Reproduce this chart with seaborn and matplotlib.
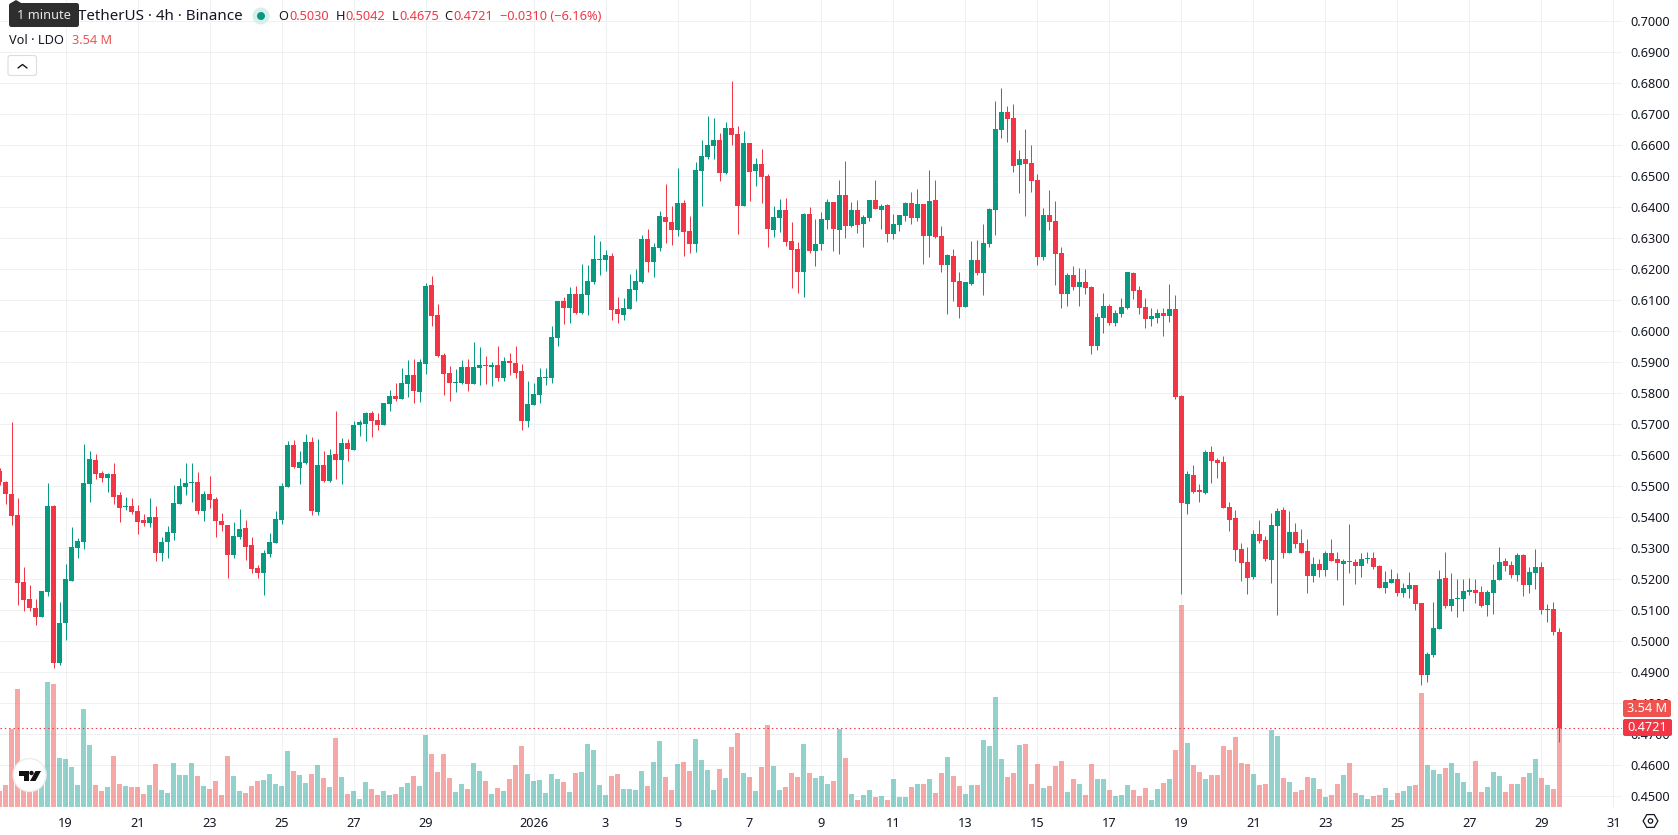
import matplotlib
matplotlib.use("Agg")
import matplotlib.pyplot as plt
from matplotlib.patches import Circle, FancyBboxPatch, Polygon, RegularPolygon
import numpy as np
import pandas as pd
import seaborn as sns

# 4h candles, numbered from the 19 December 00:00 bar
first_bar = -11
open_ = [
    .5549, .5514, .5475, .5408, .5191, .5137, .5108, .5078, .5159, .5437, .4930,
    .5059, .5195, .5301, .5320, .5508, .5585, .5543, .5527, .5540, .5472,
    .5434, .5436, .5420, .5391, .5382, .5401, .5285, .5320, .5349, .5443,
    .5498, .5511, .5514, .5420, .5475, .5459, .5388, .5375, .5278, .5337,
    .5366, .5311, .5237, .5220, .5282, .5317, .5391, .5498, .5633, .5560,
    .5575, .5643, .5417, .5569, .5517, .5604, .5585, .5640, .5617, .5698,
    .5701, .5737, .5714, .5698, .5766, .5791, .5782, .5830, .5859, .5804,
    .5895, .6149, .6053, .5924, .5866, .5833, .5833, .5885, .5830, .5882,
    .5891, .5885, .5891, .5849, .5904, .5898, .5872, .5711, .5762, .5795,
    .5849, .5849, .5978, .6098, .6075, .6120, .6059, .6117, .6159, .6230,
    .6230, .6243, .6072, .6053, .6072, .6133, .6159, .6298, .6224, .6269,
    .6369, .6353, .6327, .6414, .6324, .6282, .6517, .6562, .6598, .6617,
    .6511, .6656, .6637, .6404, .6608, .6517, .6540, .6501, .6327, .6366,
    .6391, .6291, .6266, .6191, .6378, .6259, .6282, .6359, .6417, .6327,
    .6440, .6340, .6391, .6346, .6366, .6424, .6391, .6408, .6314, .6343,
    .6372, .6414, .6366, .6411, .6308, .6424, .6308, .6214, .6243, .6162,
    .6078, .6153, .6230, .6188, .6282, .6391, .6649, .6708, .6688, .6537,
    .6556, .6543, .6488, .6240, .6375, .6356, .6253, .6120, .6182, .6143,
    .6159, .6143, .5953, .6043, .6082, .6027, .6056, .6075, .6188, .6133,
    .6078, .6040, .6043, .6059, .6049, .6072, .5792, .5443, .5537, .5488,
    .5478, .5611, .5585, .5578, .5433, .5398, .5298, .5256, .5208, .5346,
    .5327, .5262, .5372, .5424, .5285, .5353, .5317, .5291, .5211, .5249,
    .5230, .5285, .5266, .5249, .5259, .5256, .5243, .5266, .5269, .5243,
    .5172, .5188, .5201, .5156, .5169, .5182, .5124, .4891, .4956, .5040,
    .5204, .5114, .5137, .5137, .5159, .5166, .5159, .5117, .5156, .5198,
    .5259, .5246, .5214, .5278, .5182, .5220, .5240, .5101, .5104, .5030,
]
high = [
    .5560, .5517, .5708, .5462, .5240, .5182, .5137, .5162, .5511, .5440, .5127,
    .5249, .5369, .5333, .5637, .5614, .5604, .5549, .5543, .5575, .5482,
    .5466, .5462, .5440, .5411, .5462, .5437, .5337, .5372, .5504, .5527,
    .5575, .5575, .5546, .5485, .5533, .5466, .5414, .5375, .5385, .5427,
    .5391, .5337, .5246, .5295, .5349, .5420, .5511, .5646, .5649, .5614,
    .5669, .5659, .5653, .5614, .5620, .5743, .5656, .5653, .5711, .5714,
    .5740, .5743, .5737, .5769, .5811, .5833, .5882, .5908, .5911, .5911,
    .6156, .6178, .6088, .5930, .5888, .5878, .5908, .5911, .5966, .5949,
    .5920, .5901, .5953, .5917, .5930, .5953, .5895, .5840, .5833, .5882,
    .5882, .6017, .6098, .6111, .6143, .6146, .6217, .6214, .6311, .6291,
    .6262, .6253, .6111, .6108, .6185, .6201, .6311, .6330, .6285, .6388,
    .6475, .6404, .6527, .6424, .6372, .6546, .6617, .6695, .6688, .6640,
    .6675, .6808, .6662, .6646, .6608, .6559, .6588, .6508, .6404, .6427,
    .6430, .6353, .6288, .6382, .6401, .6362, .6385, .6427, .6417, .6488,
    .6549, .6417, .6424, .6375, .6424, .6488, .6411, .6411, .6378, .6375,
    .6417, .6449, .6459, .6411, .6520, .6488, .6340, .6249, .6266, .6191,
    .6159, .6291, .6295, .6346, .6398, .6743, .6785, .6727, .6733, .6585,
    .6653, .6601, .6508, .6398, .6456, .6420, .6272, .6188, .6211, .6204,
    .6201, .6146, .6059, .6124, .6088, .6069, .6108, .6191, .6191, .6146,
    .6108, .6075, .6072, .6075, .6153, .6117, .5795, .5549, .5569, .5508,
    .5617, .5630, .5591, .5598, .5449, .5424, .5317, .5304, .5359, .5391,
    .5340, .5414, .5430, .5433, .5420, .5382, .5362, .5330, .5272, .5266,
    .5291, .5330, .5288, .5266, .5378, .5266, .5285, .5288, .5288, .5246,
    .5227, .5233, .5220, .5188, .5224, .5182, .5124, .4966, .5127, .5230,
    .5288, .5220, .5201, .5201, .5204, .5201, .5178, .5166, .5249, .5304,
    .5269, .5259, .5285, .5282, .5240, .5298, .5256, .5120, .5127, .5042,
]
low = [
    .5505, .5443, .5375, .5117, .5098, .5098, .5053, .5078, .5146, .4914, .4924,
    .5004, .5195, .5269, .5298, .5449, .5524, .5514, .5482, .5443, .5385,
    .5424, .5411, .5346, .5372, .5369, .5259, .5259, .5269, .5327, .5443,
    .5472, .5449, .5411, .5388, .5430, .5337, .5356, .5204, .5269, .5330,
    .5262, .5220, .5204, .5149, .5272, .5317, .5378, .5498, .5559, .5508,
    .5572, .5408, .5408, .5514, .5514, .5524, .5508, .5582, .5617, .5662,
    .5647, .5659, .5681, .5698, .5743, .5775, .5782, .5788, .5769, .5772,
    .5862, .6017, .5917, .5795, .5775, .5804, .5830, .5808, .5830, .5827,
    .5830, .5824, .5840, .5840, .5859, .5849, .5682, .5691, .5762, .5769,
    .5827, .5833, .5953, .6024, .6027, .6056, .6056, .6053, .6153, .6182,
    .6195, .6037, .6027, .6037, .6072, .6098, .6156, .6191, .6175, .6259,
    .6285, .6278, .6308, .6243, .6253, .6256, .6404, .6556, .6556, .6485,
    .6508, .6601, .6314, .6404, .6420, .6469, .6414, .6272, .6304, .6320,
    .6275, .6140, .6124, .6111, .6253, .6211, .6262, .6330, .6259, .6249,
    .6301, .6337, .6317, .6272, .6356, .6395, .6330, .6288, .6298, .6324,
    .6356, .6346, .6356, .6217, .6240, .6301, .6191, .6056, .6098, .6043,
    .6078, .6149, .6182, .6117, .6272, .6311, .6624, .6611, .6514, .6446,
    .6372, .6449, .6214, .6230, .6327, .6149, .6075, .6082, .6133, .6082,
    .6120, .5927, .5940, .5995, .6020, .6017, .6046, .6072, .6104, .6056,
    .6011, .6017, .6027, .5985, .6030, .5782, .5153, .5411, .5478, .5449,
    .5475, .5511, .5527, .5430, .5356, .5259, .5195, .5153, .5201, .5317,
    .5259, .5188, .5085, .5269, .5285, .5301, .5285, .5156, .5191, .5208,
    .5211, .5259, .5198, .5117, .5220, .5185, .5208, .5253, .5233, .5172,
    .5156, .5188, .5146, .5143, .5140, .5101, .4859, .4869, .4949, .5040,
    .5108, .5098, .5078, .5098, .5149, .5124, .5111, .5082, .5088, .5198,
    .5227, .5204, .5195, .5146, .5156, .5169, .5088, .5062, .5020, .4675,
]
close = [
    .5515, .5475, .5404, .5188, .5133, .5108, .5078, .5162, .5437, .4930, .5059,
    .5201, .5304, .5324, .5511, .5588, .5540, .5527, .5540, .5466, .5430,
    .5436, .5417, .5385, .5382, .5401, .5285, .5320, .5353, .5446, .5501,
    .5511, .5514, .5420, .5475, .5456, .5388, .5375, .5278, .5340, .5362,
    .5304, .5233, .5220, .5285, .5320, .5395, .5501, .5633, .5562, .5578,
    .5643, .5420, .5569, .5517, .5601, .5585, .5640, .5620, .5698, .5708,
    .5737, .5711, .5698, .5769, .5791, .5782, .5833, .5859, .5808, .5901,
    .6146, .6049, .5920, .5862, .5833, .5837, .5885, .5830, .5885, .5891,
    .5889, .5891, .5849, .5904, .5898, .5866, .5711, .5766, .5798, .5853,
    .5853, .5982, .6098, .6075, .6120, .6059, .6120, .6162, .6233, .6233,
    .6246, .6069, .6056, .6075, .6137, .6162, .6298, .6224, .6272, .6372,
    .6353, .6327, .6414, .6320, .6282, .6520, .6566, .6601, .6617, .6511,
    .6656, .6633, .6404, .6608, .6514, .6540, .6498, .6330, .6369, .6391,
    .6288, .6262, .6191, .6378, .6259, .6282, .6362, .6417, .6330, .6440,
    .6340, .6391, .6343, .6369, .6424, .6395, .6404, .6314, .6346, .6375,
    .6414, .6366, .6411, .6308, .6420, .6304, .6214, .6246, .6159, .6078,
    .6159, .6230, .6188, .6285, .6395, .6653, .6708, .6685, .6533, .6556,
    .6540, .6485, .6240, .6375, .6353, .6249, .6120, .6182, .6143, .6159,
    .6140, .5953, .6046, .6082, .6027, .6059, .6078, .6191, .6130, .6075,
    .6040, .6049, .6059, .6049, .6072, .5788, .5446, .5540, .5482, .5482,
    .5611, .5582, .5575, .5430, .5391, .5295, .5253, .5204, .5346, .5324,
    .5266, .5375, .5420, .5285, .5353, .5314, .5285, .5211, .5249, .5230,
    .5285, .5259, .5253, .5259, .5256, .5243, .5266, .5269, .5240, .5172,
    .5191, .5201, .5156, .5172, .5182, .5120, .4891, .4959, .5043, .5201,
    .5114, .5137, .5140, .5162, .5166, .5156, .5114, .5159, .5198, .5256,
    .5243, .5214, .5278, .5182, .5224, .5240, .5101, .5104, .5030, .4721,
]
# traded volume per bar, in millions of LDO
volume = [
    .58, .79, 2.82, 4.26, .65, .60, .60, 1.00, 4.51, 4.44, 1.77,
    1.73, 1.44, .79, 3.54, 2.24, .79, .58, .72, 1.84, .83,
    .76, .72, .72, .47, .79, 1.55, .61, .51, 1.59, 1.16,
    1.16, 1.59, 1.12, .76, .65, .94, .43, 1.84, 1.12, .58,
    .51, .76, .94, .97, 1.19, .83, .76, 2.02, 1.30, 1.16,
    .87, 1.19, 1.52, 1.05, .72, 2.49, 1.08, .47, .58, .29,
    .90, .65, .43, .58, .43, .47, .72, .87, 1.12, .76,
    2.60, 1.91, 1.26, 1.91, 1.05, .54, .83, .65, 1.59, 1.30,
    .94, .47, .69, .58, 1.01, 1.52, 2.20, 1.19, .94, .97,
    .51, 1.19, 1.01, .90, .54, 1.23, 1.26, 2.27, 2.06, .79,
    .43, 1.12, 1.19, .65, .65, .61, 1.30, .76, 1.62, 2.38,
    1.08, .61, 1.55, 1.62, 1.30, 2.45, 1.70, 1.34, .61, 1.37,
    1.05, 2.17, 2.67, 1.23, 1.08, .58, 1.44, 2.96, 1.48, .61,
    .72, 1.23, 1.08, 2.27, 1.23, 1.05, 1.12, .83, .94, 2.82,
    1.77, .47, .25, .43, .61, .36, .40, .25, 1.01, .36,
    .36, .72, .83, .83, 1.01, .51, 1.23, 1.81, 1.12, .76,
    .47, .79, .79, 2.42, 2.20, 3.97, 1.73, 1.08, 1.23, 2.24,
    2.27, .83, 1.55, .69, .76, 1.48, 1.66, .54, 1.01, .83,
    .43, 1.55, 1.01, 1.01, .61, .40, .43, .79, .61, .40,
    .69, .25, .65, .87, 1.01, 2.06, 7.29, 2.31, 1.52, 1.26,
    1.01, 1.16, 1.16, 2.20, 2.06, 2.53, 1.59, 1.55, 1.19, .79,
    .83, 2.78, 2.56, 1.05, .90, .54, .61, 1.08, 1.05, .65,
    .36, .43, .83, 1.16, 1.59, .51, .43, .29, .40, .43,
    .69, .25, .51, .58, .76, .79, 4.12, 1.52, 1.34, 1.19,
    1.41, 1.59, 1.23, .90, .54, 1.66, .54, .72, 1.26, 1.12,
    .54, .83, .83, 1.08, 1.23, 1.73, 1.05, .79, .65, 3.54,
]
price_ticks = [round(0.45 + 0.01 * k, 2) for k in range(26)]
# days after 19 December that carry a date label
date_offsets = [0, 2, 4, 6, 8, 10, 13, 15, 17, 19, 21, 23, 25, 27, 29, 31, 33, 35, 37,
                39, 41, 43]
date_labels = ["19", "21", "23", "25", "27", "29", "2026", "3", "5", "7", "9", "11", "13",
               "15", "17", "19", "21", "23", "25", "27", "29", "31"]

UP, DOWN = "#089981", "#F23645"
UP_VOL, DOWN_VOL = "#26A69A", "#EF5350"
GRID = "#EFF0F2"
TEXT = "#131722"

bars = pd.DataFrame({"open": open_, "high": high, "low": low, "close": close, "volume": volume})
bars["bar"] = np.arange(len(bars)) + first_bar
bars["rising"] = bars["close"] >= bars["open"]

sns.set_theme(style="white")
plt.rcParams["font.family"] = ["Noto Sans", "DejaVu Sans"]

W, H = 1678, 835
fig = plt.figure(figsize=(W / 100, H / 100), dpi=100, facecolor="white")
ax = fig.add_axes([0, 28 / H, 1622 / W, 807 / H])
ax_vol = ax.twinx()
ax_candle = ax.twinx()

x_limits = (-10.917, 259.417)
price_limits = (0.44655, 0.70687)

# grid and axes
ax.set_xlim(*x_limits)
ax.set_ylim(*price_limits)
ax.set_xticks([6 * d for d in date_offsets])
ax.set_xticklabels(date_labels, fontsize=9.2, color=TEXT)
for label_ in ax.get_xticklabels():
    if label_.get_text() == "2026":
        label_.set_fontweight("bold")
ax.set_yticks(price_ticks)
ax.set_yticklabels([f"{t:.4f}" for t in price_ticks], fontsize=9.2, color=TEXT)
ax.yaxis.tick_right()
ax.tick_params(axis="both", length=0)
ax.tick_params(axis="x", pad=7)
ax.tick_params(axis="y", pad=5.8)
ax.grid(True, color=GRID, linewidth=0.72)
ax.set_axisbelow(True)
sns.despine(ax=ax, left=True, right=True, top=True, bottom=True)

# volume histogram on its own scale
sns.barplot(data=bars, x="bar", y="volume", hue="rising",
            palette={True: UP_VOL, False: DOWN_VOL}, dodge=False, native_scale=True,
            width=0.83, saturation=1, alpha=0.5, linewidth=0, legend=False, ax=ax_vol)
ax_vol.set_xlim(*x_limits)
ax_vol.set_ylim(0, 807 / 27.7)
ax_vol.axis("off")

# wicks, then candle bodies
for rising, color in ((True, UP), (False, DOWN)):
    part = bars[bars["rising"] == rising]
    ax_candle.vlines(part["bar"], part["low"], part["high"], color=color, linewidth=0.72)
    base = part[["open", "close"]].min(axis=1).to_numpy()
    body = (part["close"] - part["open"]).abs().to_numpy()
    sns.barplot(x=part["bar"].to_numpy(), y=body, bottom=base, color=color, saturation=1,
                native_scale=True, width=0.83, linewidth=0, ax=ax_candle)
ax_candle.axhline(close[-1], color=DOWN, linewidth=0.8, linestyle=(0, (1.3, 2.6)))
ax_candle.set_xlim(*x_limits)
ax_candle.set_ylim(*price_limits)
ax_candle.axis("off")

# chart furniture placed in pixel coordinates
ui = fig.add_axes([0, 0, 1, 1], zorder=5)
ui.set_xlim(0, W)
ui.set_ylim(H, 0)
ui.axis("off")


def label(x, y, text, color=TEXT, size=9.2, ha="left", **kw):
    ui.text(x, y, text, color=color, fontsize=size, ha=ha, va="center", **kw)


def box(x0, y0, x1, y1, face, edge="none", radius=2.0, lw=0.0):
    ui.add_patch(FancyBboxPatch((x0, y0), x1 - x0, y1 - y0,
                                boxstyle=f"round,pad=0,rounding_size={radius}",
                                facecolor=face, edgecolor=edge, linewidth=lw))


label(78.5, 16, "TetherUS · 4h · Binance", size=10.9)
ui.add_patch(Circle((261, 16), 8.5, facecolor="#D9EFEB", edgecolor="none"))
ui.add_patch(Circle((261, 16), 4, facecolor=UP, edgecolor="none"))
for x_key, key, x_val, value in ((278, "O", 289, "0.5030"), (335.5, "H", 345, "0.5042"),
                                 (391.5, "L", 399, "0.4675"), (444.5, "C", 453.5, "0.4721")):
    label(x_key, 16.5, key, size=9.2)
    label(x_val, 16.5, value, color=DOWN, size=9.2)
label(500, 16.5, "−0.0310 (−6.16%)", color=DOWN, size=9.2)

# tooltip over the symbol name
ui.add_patch(Polygon([(10, 3.5), (16, 0), (22, 3.5)], facecolor="#2E2E2E", edgecolor="none"))
box(9, 3, 79, 27, "#2E2E2E", radius=2.5)
label(44, 15.5, "1 minute", color="#E8E8E8", size=9.2, ha="center")

label(9, 40.5, "Vol · LDO", size=9.2)
label(71.5, 40.5, "3.54 M", color=DOWN_VOL, size=9.2)

# collapse button
box(8, 55.5, 36.5, 75.5, "white", edge="#DADCE0", radius=2.5, lw=0.8)
ui.plot([18, 22.5, 27], [68, 64.5, 68], color=TEXT, linewidth=1.0)

# last volume and last price tags
box(1623, 700, 1671, 717, DOWN_VOL)
label(1647.5, 708.5, "3.54 M", color="white", size=9.2, ha="center")
box(1623, 719, 1672, 736, DOWN)
label(1647.5, 727.5, "0.4721", color="white", size=9.2, ha="center")

# settings icon at the axis corner
ui.add_patch(RegularPolygon((1650.5, 821), 6, radius=7.4, orientation=np.pi / 2, facecolor="none",
                            edgecolor=TEXT, linewidth=0.9))
ui.add_patch(Circle((1650.5, 821), 2.2, facecolor="none", edgecolor=TEXT, linewidth=0.9))

# TradingView badge
ui.add_patch(Circle((29.6, 775), 16.5, facecolor="white", edgecolor="#EDEDED", linewidth=1.0))
ui.add_patch(Polygon([(19, 771), (28.5, 771), (28.5, 781), (23.5, 781), (23.5, 775.5), (19, 775.5)],
                     facecolor="#111111", edgecolor="none"))
ui.add_patch(Circle((31.5, 773), 2.2, facecolor="#111111", edgecolor="none"))
ui.add_patch(Polygon([(35.5, 771), (41, 771), (35.5, 781), (30, 781)],
                     facecolor="#111111", edgecolor="none"))

fig.savefig("out.png", dpi=100, facecolor="white")
